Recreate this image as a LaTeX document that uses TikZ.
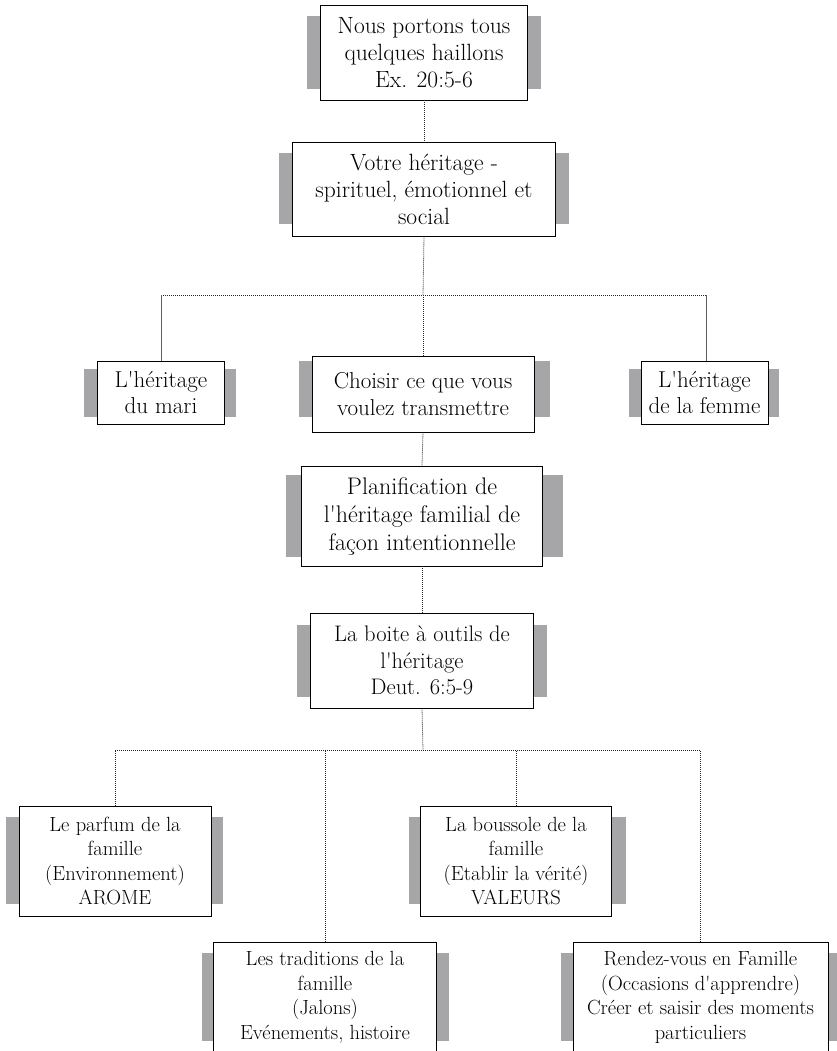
\documentclass[tikz,border=0pt]{standalone}
\usetikzlibrary{backgrounds}
\definecolor{barc}{RGB}{166,166,168}
\definecolor{linkc}{RGB}{95,95,95}
\newcommand\ap{\textquotesingle}
\tikzset{
  box/.style={draw=black, line width=0.9pt, fill=white, align=center, inner sep=1pt, text=black},
  topfont/.style={font=\fontsize{23.5}{27}\selectfont},
  midfont/.style={font=\fontsize{23}{26.5}\selectfont},
  lowfont/.style={font=\fontsize{20.5}{24.5}\selectfont},
  link/.style={line width=0.8pt, dash pattern=on 1pt off 1pt, draw=black!85},
  solidlink/.style={line width=0.9pt, draw=linkc},
  bar/.style={fill=barc}
}
% node, left width, right width, top inset, bottom inset
\newcommand\sidebars[5]{%
  \fill[bar] ([xshift=-#2pt, yshift=-#4pt]#1.north west) rectangle ([yshift=#5pt]#1.south west);
  \fill[bar] ([yshift=-#4pt]#1.north east) rectangle ([xshift=#3pt, yshift=#5pt]#1.south east);
}
\begin{document}
\begin{tikzpicture}[x=1pt, y=-1pt]
\useasboundingbox (0,0) rectangle (836,1051);

\node[box, topfont, minimum width=207pt, minimum height=95pt] (b1) at (424,52.5)
  {Nous portons tous\\quelques haillons\\Ex. 20:5-6};
\node[box, topfont, minimum width=263pt, minimum height=94pt] (b2) at (424,189)
  {Votre h\'eritage -\\spirituel, \'emotionnel et\\social};
\node[box, midfont, minimum width=127pt, minimum height=63pt] (mari) at (161,392.5)
  {L\ap h\'eritage\\du mari};
\node[box, midfont, minimum width=222pt, minimum height=76pt] (choisir) at (423,394)
  {Choisir ce que vous\\voulez transmettre};
\node[box, midfont, minimum width=127pt, minimum height=63pt] (femme) at (704.5,392.5)
  {L\ap h\'eritage\\de la femme};
\node[box, font=\fontsize{24}{28}\selectfont, minimum width=241pt, minimum height=100pt] (plan) at (422,516)
  {Planification de\\l\ap h\'eritage familial de\\fa\c{c}on intentionnelle};
\node[box, font=\fontsize{22.5}{26.5}\selectfont, minimum width=223pt, minimum height=95pt] (boite) at (422,660.5)
  {La boite \`a outils de\\l\ap h\'eritage\\Deut. 6:5-9};
\node[box, lowfont, minimum width=192pt, minimum height=110pt] (parfum) at (115,861)
  {Le parfum de la\\famille\\(Environnement)\\AROME};
\node[box, lowfont, minimum width=191pt, minimum height=110pt] (boussole) at (516,861)
  {La boussole de la\\famille\\(Etablir la v\'erit\'e)\\VALEURS};
\node[box, lowfont, minimum width=223pt, minimum height=111pt] (trad) at (325,997.5)
  {Les traditions de la\\famille\\(Jalons)\\Ev\'enements, histoire};
\node[box, lowfont, minimum width=255pt, minimum height=111pt] (rdv) at (700.5,997.5)
  {Rendez-vous en Famille\\(Occasions d\ap apprendre)\\Cr\'eer et saisir des moments\\particuliers};

\begin{pgfonlayer}{background}
  \sidebars{b1}{13}{13}{11}{11}
  \sidebars{b2}{13}{13}{11}{12}
  \sidebars{mari}{13}{11}{8}{7}
  \sidebars{choisir}{13}{16}{5}{15}
  \sidebars{femme}{12}{11}{8}{7}
  \sidebars{plan}{15}{20}{9}{9}
  \sidebars{boite}{13}{13}{12}{11}
  \sidebars{parfum}{13}{12}{11}{12}
  \sidebars{boussole}{11}{14}{11}{12}
  \sidebars{trad}{11}{12}{11}{12}
  \sidebars{rdv}{12}{12}{11}{12}
\end{pgfonlayer}

\coordinate (j1) at (423,295);
\coordinate (j2) at (423,750);
\coordinate (fa) at ([xshift=1.5pt]femme.north);

\draw[link] (b1.south) -- (b2.north);
\draw[link] (b2.south) -- (j1);
\draw[link] (mari.north |- j1) -- (fa |- j1);
\draw[solidlink] (mari.north) -- (mari.north |- j1);
\draw[solidlink] (fa) -- (fa |- j1);
\draw[link] (j1) -- (choisir.north);
\draw[link] (choisir.south) -- (plan.north);
\draw[link] (plan.south) -- (boite.north);
\draw[link] (boite.south) -- (j2);
\draw[link] (parfum.north) -- (parfum.north |- j2) -- (rdv.north |- j2) -- (rdv.north);
\draw[link] (trad.north) -- (trad.north |- j2);
\draw[link] (boussole.north) -- (boussole.north |- j2);
\end{tikzpicture}
\end{document}
